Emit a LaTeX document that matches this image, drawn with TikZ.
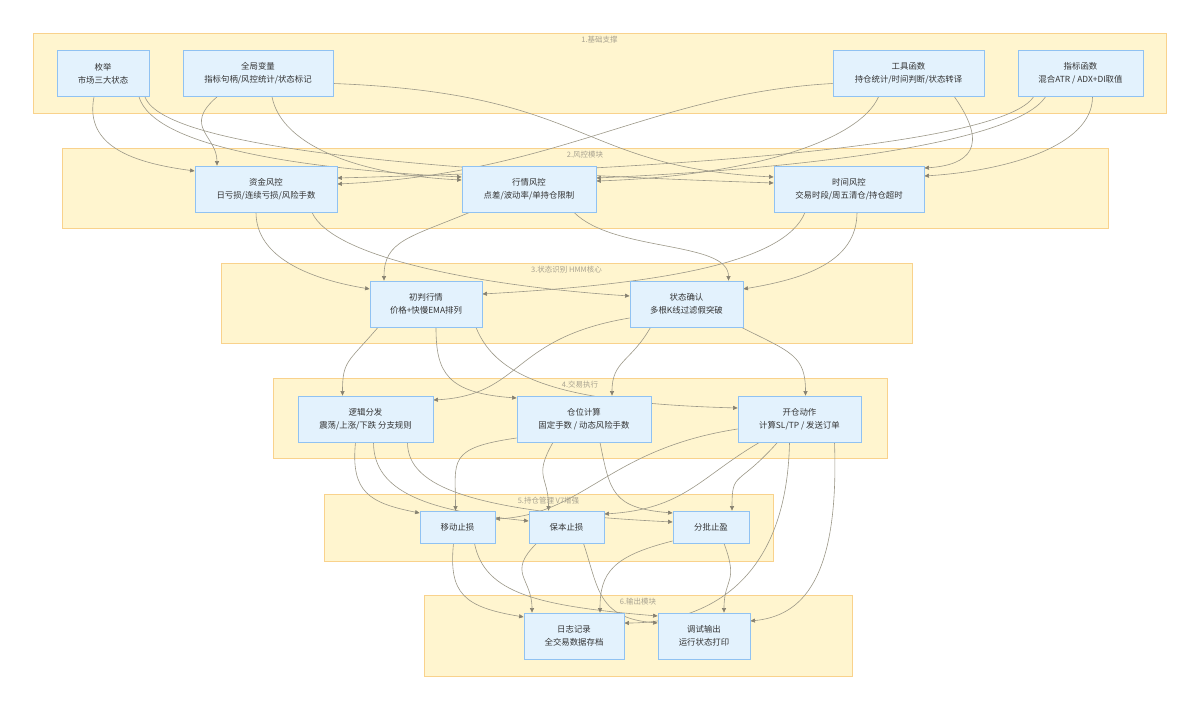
\documentclass[tikz,border=0pt]{standalone}
\usepackage{fontspec}
\setmainfont{Noto Sans CJK SC}
\usetikzlibrary{arrows.meta,positioning}
\definecolor{grpfill}{HTML}{FFF5CF}
\definecolor{grpline}{HTML}{F9D28C}
\definecolor{boxfill}{HTML}{E3F2FD}
\definecolor{boxline}{HTML}{90C2F2}
\definecolor{linkgray}{HTML}{9C9888}
\definecolor{tipgray}{HTML}{858070}
\definecolor{txtgray}{HTML}{333333}
\definecolor{lblgray}{HTML}{A8A290}
\pgfdeclarelayer{back}
\pgfdeclarelayer{mid}
\pgfsetlayers{back,mid,main}
\tikzset{
  grp/.style={draw=grpline, fill=grpfill, line width=0.8pt, inner sep=0pt},
  grplabel/.style={font=\fontsize{7.5}{9}\selectfont, text=lblgray, inner sep=0pt},
  mod/.style={draw=boxline, fill=boxfill, line width=0.8pt, align=center, inner sep=0pt,
    text=txtgray, font=\fontsize{8.4}{13}\selectfont, minimum height=46pt},
  link/.style={draw=linkgray, line width=0.6pt, -{Triangle[length=4.5pt,width=4pt,color=tipgray]}},
}
\begin{document}
\begin{tikzpicture}[x=1pt,y=-1pt]
  \useasboundingbox (0,0) rectangle (1200,709);
  % subgraphs
  \begin{pgfonlayer}{back}
    \fill[white] (0,0) rectangle (1200,709);
    \node[grp, minimum width=1133pt, minimum height=80pt] (base) at (599.5,73) {};
    \node[grp, minimum width=1046pt, minimum height=80pt] (risk) at (585,188) {};
    \node[grp, minimum width=691pt, minimum height=80pt] (state) at (566.5,303) {};
    \node[grp, minimum width=614pt, minimum height=80pt] (exec) at (580,418) {};
    \node[grp, minimum width=449pt, minimum height=67pt] (hold) at (548.5,527.5) {};
    \node[grp, minimum width=428pt, minimum height=81pt] (output) at (638,635.5) {};
    \node[grplabel, below=3.5pt of base.north] (baset) {1.基础支撑};
    \node[grplabel, below=3.5pt of risk.north] (riskt) {2.风控模块};
    \node[grplabel, below=3.5pt of state.north] (statet) {3.状态识别 HMM核心};
    \node[grplabel, below=3.5pt of exec.north] (exect) {4.交易执行};
    \node[grplabel, below=3.5pt of hold.north] (holdt) {5.持仓管理 V7增强};
    \node[grplabel, below=3.5pt of output.north] (outputt) {6.输出模块};
  \end{pgfonlayer}
  % modules
  \node[mod, minimum width=92pt] (enum) at (103,73.5) {枚举\\市场三大状态};
  \node[mod, minimum width=150pt] (globvar) at (258,73.5) {全局变量\\指标句柄/风控统计/状态标记};
  \node[mod, minimum width=151pt] (toolfn) at (908.5,73.5) {工具函数\\持仓统计/时间判断/状态转译};
  \node[mod, minimum width=125pt] (indfn) at (1080.5,73.5) {指标函数\\混合ATR / ADX+DI取值};
  \node[mod, minimum width=142pt] (fundrisk) at (266,189) {资金风控\\日亏损/连续亏损/风险手数};
  \node[mod, minimum width=134pt] (mktrisk) at (529,189) {行情风控\\点差/波动率/单持仓限制};
  \node[mod, minimum width=150pt] (timerisk) at (849,189) {时间风控\\交易时段/周五清仓/持仓超时};
  \node[mod, minimum width=112pt] (prejudge) at (426,304) {初判行情\\价格+快慢EMA排列};
  \node[mod, minimum width=113pt] (confirm) at (686.5,304) {状态确认\\多根K线过滤假突破};
  \node[mod, minimum width=135pt] (dispatch) at (365.5,419) {逻辑分发\\震荡/上涨/下跌 分支规则};
  \node[mod, minimum width=134pt] (sizing) at (584,419) {仓位计算\\固定手数 / 动态风险手数};
  \node[mod, minimum width=123pt] (entry) at (799.5,419) {开仓动作\\计算SL/TP / 发送订单};
  \node[mod, minimum width=75pt, minimum height=32pt] (trail) at (457.5,527) {移动止损};
  \node[mod, minimum width=75pt, minimum height=32pt] (breakeven) at (566.5,527) {保本止损};
  \node[mod, minimum width=76pt, minimum height=32pt] (partial) at (711,527) {分批止盈};
  \node[mod, minimum width=100pt] (logrec) at (574,636) {日志记录\\全交易数据存档};
  \node[mod, minimum width=92pt] (dbgout) at (704,636) {调试输出\\运行状态打印};
  \begin{pgfonlayer}{mid}
    % base -> risk
    \draw[link] ([xshift=-9pt]enum.south) .. controls +(-10,50) and +(-60,-8) .. ([yshift=18pt]fundrisk.west);
    \draw[link] ([xshift=36pt]enum.south) .. controls +(15,50) and +(-160,-8) .. ([yshift=12pt]mktrisk.west);
    \draw[link] ([xshift=42pt]enum.south) .. controls +(20,55) and +(-300,-10) .. ([yshift=6pt]timerisk.west);
    \draw[link] ([xshift=-41pt]globvar.south) .. controls +(-35,30) and +(0,-30) .. ([xshift=-49pt]fundrisk.north);
    \draw[link] ([xshift=14pt]globvar.south) .. controls +(10,50) and +(-100,-5) .. ([yshift=9pt]mktrisk.west);
    \draw[link] ([yshift=-10pt]globvar.east) .. controls +(260,10) and +(-200,-10) .. ([yshift=12pt]timerisk.west);
    \draw[link] ([yshift=-10pt]toolfn.west) .. controls +(-180,10) and +(220,-10) .. ([yshift=5pt]fundrisk.east);
    \draw[link] ([xshift=-30pt]toolfn.south) .. controls +(-20,45) and +(150,-5) .. ([yshift=8pt]mktrisk.east);
    \draw[link] ([xshift=46pt]toolfn.south) .. controls +(35,50) and +(45,-3) .. ([yshift=21pt]timerisk.east);
    \draw[link] ([xshift=-47pt]indfn.south) .. controls +(-30,45) and +(380,-10) .. ([yshift=11pt]fundrisk.east);
    \draw[link] ([xshift=-35pt]indfn.south) .. controls +(-30,45) and +(220,-10) .. ([yshift=11pt]mktrisk.east);
    \draw[link] ([xshift=12pt]indfn.south) .. controls +(0,50) and +(80,-5) .. ([yshift=13pt]timerisk.east);
    % risk -> state
    \draw[link] ([xshift=-10pt]fundrisk.south) .. controls +(0,45) and +(-60,-10) .. ([yshift=15pt]prejudge.west);
    \draw[link] ([xshift=46pt]fundrisk.south) .. controls +(20,45) and +(-150,-10) .. ([yshift=8pt]confirm.west);
    \draw[link] ([xshift=8pt]mktrisk.south west) .. controls +(-60,25) and +(0,-40) .. ([xshift=-42pt]prejudge.north);
    \draw[link] ([xshift=45pt]mktrisk.south) .. controls +(40,40) and +(0,-40) .. ([xshift=42pt]confirm.north);
    \draw[link] ([xshift=-44pt]timerisk.south) .. controls +(-20,50) and +(180,-10) .. ([yshift=10pt]prejudge.east);
    \draw[link] ([xshift=8pt]timerisk.south) .. controls +(0,50) and +(60,-10) .. ([yshift=15pt]confirm.east);
    % state -> exec
    \draw[link] ([xshift=-48pt]prejudge.south) .. controls +(-30,35) and +(0,-35) .. ([xshift=-23pt]dispatch.north);
    \draw[link] ([xshift=10pt]prejudge.south) .. controls +(0,45) and +(-70,-5) .. ([yshift=21pt]sizing.west);
    \draw[link] ([xshift=50pt]prejudge.south) .. controls +(20,50) and +(-180,-5) .. ([yshift=11pt]entry.west);
    \draw[link] ([yshift=-14pt]confirm.west) .. controls +(-120,20) and +(90,-5) .. ([yshift=19pt]dispatch.east);
    \draw[link] ([xshift=-36pt]confirm.south) .. controls +(-20,35) and +(0,-35) .. ([xshift=28pt]sizing.north);
    \draw[link] ([xshift=55pt]confirm.south) .. controls +(50,25) and +(0,-40) .. ([xshift=6pt]entry.north);
    % exec -> hold, output
    \draw[link] ([xshift=-10pt]dispatch.south) .. controls +(-5,50) and +(-50,-10) .. ([yshift=14pt]trail.west);
    \draw[link] ([xshift=8pt]dispatch.south) .. controls +(0,50) and +(-100,-10) .. ([yshift=6pt]breakeven.west);
    \draw[link] ([xshift=42pt]dispatch.south) .. controls +(0,45) and +(-200,-10) .. ([yshift=5pt]partial.west);
    \draw[link] ([yshift=-19pt]sizing.west) .. controls +(-70,10) and +(0,-50) .. ([xshift=-2pt]trail.north);
    \draw[link] ([xshift=-31pt]sizing.south) .. controls +(-20,35) and +(0,-35) .. ([xshift=-18pt]breakeven.north);
    \draw[link] ([xshift=16pt]sizing.south) .. controls +(10,50) and +(-60,-5) .. ([yshift=14pt]partial.west);
    \draw[link] ([yshift=-10pt]entry.west) .. controls +(-130,20) and +(90,-5) .. ([yshift=8pt]trail.east);
    \draw[link] ([xshift=-40pt]entry.south) .. controls +(-60,35) and +(80,-5) .. ([yshift=13pt]breakeven.east);
    \draw[link] ([xshift=-22pt]entry.south) .. controls +(-40,45) and +(0,-40) .. ([xshift=21pt]partial.north);
    \draw[link] ([xshift=-10pt]entry.south) .. controls +(-3,150) and +(70,0) .. ([yshift=13pt]logrec.east);
    \draw[link] ([xshift=35pt]entry.south) .. controls +(5,140) and +(50,-5) .. ([yshift=15pt]dbgout.east);
    % hold -> output
    \draw[link] ([xshift=-4pt]trail.south) .. controls +(-5,50) and +(-60,-10) .. ([yshift=19pt]logrec.west);
    \draw[link] ([xshift=17pt]trail.south) .. controls +(10,50) and +(-120,-10) .. ([yshift=20pt]dbgout.west);
    \draw[link] ([xshift=-30pt]breakeven.south) .. controls +(-30,30) and +(0,-35) .. ([xshift=-42pt]logrec.north);
    \draw[link] ([xshift=17pt]breakeven.south) .. controls +(15,45) and +(-60,-5) .. ([yshift=13pt]dbgout.west);
    \draw[link] ([yshift=-14pt]partial.west) .. controls +(-60,15) and +(0,-40) .. ([xshift=26pt]logrec.north);
    \draw[link] ([xshift=13pt]partial.south) .. controls +(15,40) and +(0,-35) .. ([xshift=20pt]dbgout.north);
  \end{pgfonlayer}
\end{tikzpicture}
\end{document}
